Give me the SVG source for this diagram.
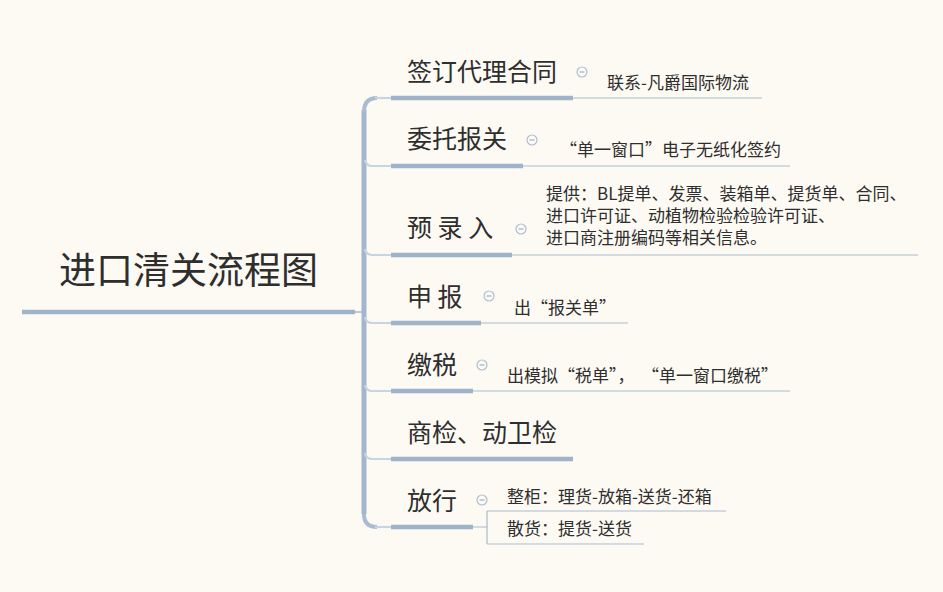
<svg xmlns="http://www.w3.org/2000/svg" width="943" height="592" viewBox="0 0 943 592">
<style>
.bg{fill:#fdfaf3}
.t{font-family:"Noto Sans CJK SC","Noto Sans",sans-serif;fill:#2e2e2e}
.title{font-size:37px}
.main{font-size:25px}
.note{font-size:17px}
.thick{stroke:#9fb3cb;stroke-width:4.5;fill:none}
.thin{stroke:#a9b9cd;stroke-width:1.2;fill:none}
.conn{stroke:#c8d4e2;stroke-width:2.2;fill:none}
.spine{stroke:#a2b6ce;stroke-width:5;fill:none}
.col circle{fill:#fdfaf3;stroke:#aebfd3;stroke-width:1.2}
.col line{stroke:#9fb3cb;stroke-width:1.2}
</style>
<rect class="bg" x="0" y="0" width="943" height="592"/>

<g id="connectors">
  <line x1="354" y1="312" x2="364" y2="312" stroke="#a2b6ce" stroke-width="1.5"/>
  <path class="spine" d="M364,110 V514"/>
  <path d="M364,112 Q364,98 377,98" stroke="#a9bcd2" stroke-width="4" fill="none"/>
  <path d="M364,514 Q364,527 377,527" stroke="#a9bcd2" stroke-width="4" fill="none"/>
  <path class="conn" d="M375,98 H391"/>
  <path class="conn" d="M365,160 Q366,166 372,166 H391"/>
  <path class="conn" d="M365,249 Q366,255 372,255 H391"/>
  <path class="conn" d="M365,317 Q366,323 372,323 H391"/>
  <path class="conn" d="M365,385 Q366,391 372,391 H391"/>
  <path class="conn" d="M365,453 Q366,459 372,459 H391"/>
  <path class="conn" d="M375,527 H391"/>
</g>

<g id="root">
  <text class="t title" x="59" y="284">进口清关流程图</text>
  <line class="thick" x1="22" y1="312" x2="355" y2="312"/>
</g>

<g id="n1">
  <text class="t main" x="407" y="81">签订代理合同</text>
  <line class="thick" x1="391" y1="98" x2="573" y2="98"/>
  <g class="col"><circle cx="582" cy="72" r="5"/><line x1="579.5" y1="72" x2="584.5" y2="72"/></g>
  <text class="t note" x="607" y="89">联系-凡爵国际物流</text>
  <line class="thin" x1="573" y1="98" x2="762" y2="98"/>
</g>

<g id="n2">
  <text class="t main" x="407" y="148">委托报关</text>
  <line class="thick" x1="391" y1="166" x2="523" y2="166"/>
  <g class="col"><circle cx="532" cy="140" r="5"/><line x1="529.5" y1="140" x2="534.5" y2="140"/></g>
  <text class="t note" x="560" y="156">“单一窗口”电子无纸化签约</text>
  <line class="thin" x1="523" y1="166" x2="790" y2="166"/>
</g>

<g id="n3">
  <text class="t main" x="407" y="237">预 录 入</text>
  <line class="thick" x1="391" y1="255" x2="512" y2="255"/>
  <g class="col"><circle cx="521" cy="229" r="5"/><line x1="518.5" y1="229" x2="523.5" y2="229"/></g>
  <text class="t note"><tspan x="546" y="200">提供：BL提单、发票、装箱单、提货单、合同、</tspan><tspan x="546" y="222">进口许可证、动植物检验检验许可证、</tspan><tspan x="546" y="244">进口商注册编码等相关信息。</tspan></text>
  <line class="thin" x1="512" y1="255" x2="918" y2="255"/>
</g>

<g id="n4">
  <text class="t main" x="407" y="306">申 报</text>
  <line class="thick" x1="391" y1="323" x2="481" y2="323"/>
  <g class="col"><circle cx="489" cy="296" r="5"/><line x1="486.5" y1="296" x2="491.5" y2="296"/></g>
  <text class="t note" x="514" y="314">出“报关单”</text>
  <line class="thin" x1="481" y1="323" x2="628" y2="323"/>
</g>

<g id="n5">
  <text class="t main" x="407" y="374">缴税</text>
  <line class="thick" x1="391" y1="391" x2="473" y2="391"/>
  <g class="col"><circle cx="482" cy="365" r="5"/><line x1="479.5" y1="365" x2="484.5" y2="365"/></g>
  <text class="t note" x="507" y="382">出模拟“税单”，<tspan dx="16">“单一窗口缴税”</tspan></text>
  <line class="thin" x1="473" y1="391" x2="790" y2="391"/>
</g>

<g id="n6">
  <text class="t main" x="407" y="442">商检、动卫检</text>
  <line class="thick" x1="391" y1="459" x2="573" y2="459"/>
</g>

<g id="n7">
  <text class="t main" x="407" y="510">放行</text>
  <line class="thick" x1="391" y1="527" x2="473" y2="527"/>
  <g class="col"><circle cx="482" cy="500" r="5"/><line x1="479.5" y1="500" x2="484.5" y2="500"/></g>
  <path class="thin" d="M473,527 H487 M487,511 V544 M487,511 H726 M487,544 H644"/>
  <text class="t note" x="507" y="503">整柜：理货-放箱-送货-还箱</text>
  <text class="t note" x="507" y="535">散货：提货-送货</text>
</g>
</svg>
